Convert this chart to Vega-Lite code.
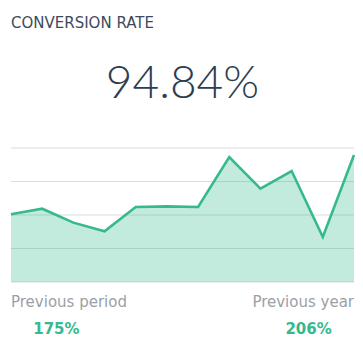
{
  "$schema": "https://vega.github.io/schema/vega-lite/v6.json",
  "padding": {"left": 5, "right": 15, "top": 16, "bottom": 0},
  "background": "white",
  "config": {
    "view": {"stroke": null},
    "concat": {"spacing": 0}
  },
  "title": {
    "text": "CONVERSION RATE",
    "anchor": "start",
    "frame": "group",
    "font": "DejaVu Sans",
    "fontSize": 15,
    "fontWeight": "normal",
    "color": "#3e4a5b",
    "offset": 0
  },
  "vconcat": [
    {
      "width": 343,
      "height": 116,
      "data": {"values": [{"headline": "94.84%"}]},
      "mark": {"type": "text", "font": "Lato", "fontWeight": 300, "fontSize": 46, "color": "#2c3e50", "baseline": "middle", "align": "center", "dy": -5},
      "encoding": {"text": {"field": "headline", "type": "nominal"}}
    },
    {
      "width": 343,
      "height": 134,
      "layer": [
        {
          "data": {"values": [{"level": 0}, {"level": 25}, {"level": 50}, {"level": 75}, {"level": 100}]},
          "mark": {"type": "rule", "color": "#dcdcdc", "strokeWidth": 1.2},
          "encoding": {
            "y": {"field": "level", "type": "quantitative", "scale": {"domain": [0, 100], "nice": false}, "axis": null}
          }
        },
        {
          "data": {"values": [
            {"period": 1, "rate": 50.5},
            {"period": 2, "rate": 54.7},
            {"period": 3, "rate": 44.3},
            {"period": 4, "rate": 37.8},
            {"period": 5, "rate": 56.0},
            {"period": 6, "rate": 56.4},
            {"period": 7, "rate": 56.0},
            {"period": 8, "rate": 93.3},
            {"period": 9, "rate": 69.6},
            {"period": 10, "rate": 82.8},
            {"period": 11, "rate": 33.6},
            {"period": 12, "rate": 94.84}
          ]},
          "encoding": {
            "x": {"field": "period", "type": "quantitative", "scale": {"domain": [1, 12], "nice": false, "zero": false}, "axis": null},
            "y": {"field": "rate", "type": "quantitative", "scale": {"domain": [0, 100], "nice": false}, "axis": null}
          },
          "layer": [
            {"mark": {"type": "area", "color": "#36b98f", "opacity": 0.3}},
            {"mark": {"type": "line", "color": "#36b98f", "strokeWidth": 2.6}}
          ]
        }
      ]
    },
    {
      "width": 343,
      "height": 65,
      "data": {"values": [
        {"comparison": "Previous period", "change": "175%"},
        {"comparison": "Previous year", "change": "206%"}
      ]},
      "layer": [
        {
          "mark": {"type": "text", "font": "DejaVu Sans", "fontSize": 15, "color": "#9b9fa7", "baseline": "middle", "dy": -13.5,
            "align": {"expr": "datum.comparison === 'Previous period' ? 'left' : 'right'"}},
          "encoding": {
            "x": {"field": "comparison", "type": "nominal", "scale": {"type": "point", "padding": 0}, "axis": null},
            "text": {"field": "comparison", "type": "nominal"}
          }
        },
        {
          "mark": {"type": "text", "font": "DejaVu Sans", "fontSize": 15, "fontWeight": "bold", "color": "#36b98f", "baseline": "middle", "align": "center", "dy": 13},
          "encoding": {
            "x": {"field": "comparison", "type": "nominal", "scale": {"type": "point", "padding": 0.18}, "axis": null},
            "text": {"field": "change", "type": "nominal"}
          }
        }
      ],
      "resolve": {"scale": {"x": "independent"}}
    }
  ]
}
